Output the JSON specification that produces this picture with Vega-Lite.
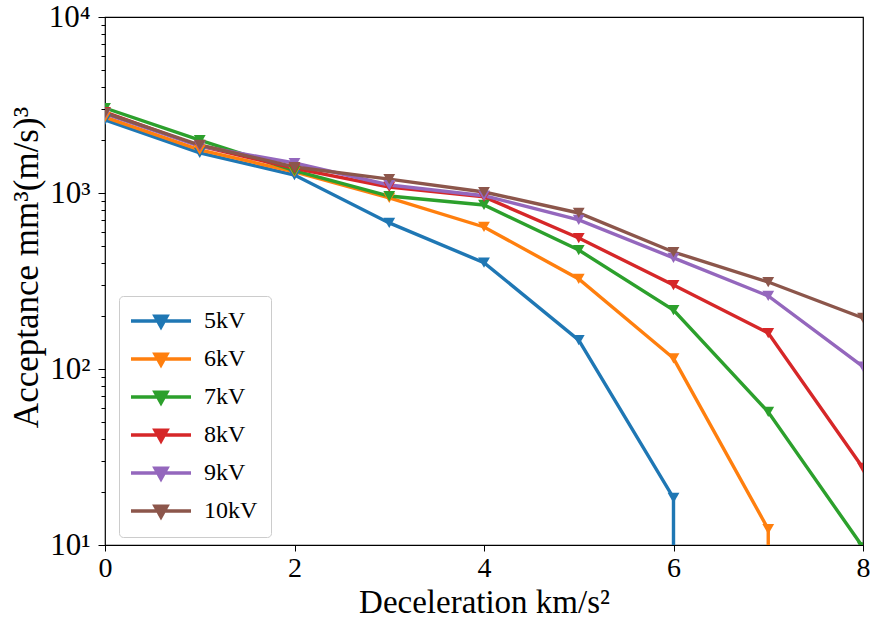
{
  "$schema": "https://vega.github.io/schema/vega-lite/v6.json",
  "autosize": {"type": "none"},
  "width": 758,
  "height": 528,
  "padding": {"left": 105, "top": 17, "right": 7, "bottom": 83},
  "background": "white",
  "config": {
    "view": {"stroke": "black", "strokeWidth": 1.2},
    "font": "Liberation Serif",
    "axis": {"grid": false, "domainColor": "black", "tickColor": "black", "labelColor": "black", "titleColor": "black", "labelFont": "Liberation Serif", "titleFont": "Liberation Serif", "titleFontWeight": "normal"}
  },
  "data": {"values": [
    {"series": "5kV", "decel": 0, "acceptance": 2600},
    {"series": "5kV", "decel": 1, "acceptance": 1690},
    {"series": "5kV", "decel": 2, "acceptance": 1265},
    {"series": "5kV", "decel": 3, "acceptance": 676},
    {"series": "5kV", "decel": 4, "acceptance": 402},
    {"series": "5kV", "decel": 5, "acceptance": 146},
    {"series": "5kV", "decel": 6, "acceptance": 18.5},
    {"series": "5kV", "decel": 6, "acceptance": 0.000001},
    {"series": "6kV", "decel": 0, "acceptance": 2700},
    {"series": "6kV", "decel": 1, "acceptance": 1760},
    {"series": "6kV", "decel": 2, "acceptance": 1320},
    {"series": "6kV", "decel": 3, "acceptance": 937},
    {"series": "6kV", "decel": 4, "acceptance": 641},
    {"series": "6kV", "decel": 5, "acceptance": 325},
    {"series": "6kV", "decel": 6, "acceptance": 115},
    {"series": "6kV", "decel": 7, "acceptance": 12.3},
    {"series": "6kV", "decel": 7, "acceptance": 0.000001},
    {"series": "7kV", "decel": 0, "acceptance": 3040},
    {"series": "7kV", "decel": 1, "acceptance": 2000},
    {"series": "7kV", "decel": 2, "acceptance": 1340},
    {"series": "7kV", "decel": 3, "acceptance": 961},
    {"series": "7kV", "decel": 4, "acceptance": 855},
    {"series": "7kV", "decel": 5, "acceptance": 474},
    {"series": "7kV", "decel": 6, "acceptance": 216},
    {"series": "7kV", "decel": 7, "acceptance": 57},
    {"series": "7kV", "decel": 8, "acceptance": 9.7},
    {"series": "8kV", "decel": 0, "acceptance": 2880},
    {"series": "8kV", "decel": 1, "acceptance": 1850},
    {"series": "8kV", "decel": 2, "acceptance": 1380},
    {"series": "8kV", "decel": 3, "acceptance": 1082},
    {"series": "8kV", "decel": 4, "acceptance": 950},
    {"series": "8kV", "decel": 5, "acceptance": 555},
    {"series": "8kV", "decel": 6, "acceptance": 300},
    {"series": "8kV", "decel": 7, "acceptance": 160},
    {"series": "8kV", "decel": 8, "acceptance": 27.4},
    {"series": "9kV", "decel": 0, "acceptance": 2820},
    {"series": "9kV", "decel": 1, "acceptance": 1850},
    {"series": "9kV", "decel": 2, "acceptance": 1480},
    {"series": "9kV", "decel": 3, "acceptance": 1110},
    {"series": "9kV", "decel": 4, "acceptance": 965},
    {"series": "9kV", "decel": 5, "acceptance": 703},
    {"series": "9kV", "decel": 6, "acceptance": 428},
    {"series": "9kV", "decel": 7, "acceptance": 260},
    {"series": "9kV", "decel": 8, "acceptance": 103},
    {"series": "10kV", "decel": 0, "acceptance": 2850},
    {"series": "10kV", "decel": 1, "acceptance": 1874},
    {"series": "10kV", "decel": 2, "acceptance": 1405},
    {"series": "10kV", "decel": 3, "acceptance": 1200},
    {"series": "10kV", "decel": 4, "acceptance": 1013},
    {"series": "10kV", "decel": 5, "acceptance": 770},
    {"series": "10kV", "decel": 6, "acceptance": 462},
    {"series": "10kV", "decel": 7, "acceptance": 312},
    {"series": "10kV", "decel": 8, "acceptance": 195}
  ]},
  "encoding": {
    "x": {"field": "decel", "type": "quantitative",
      "scale": {"domain": [0, 8], "nice": false, "zero": false},
      "axis": {"values": [0, 2, 4, 6, 8], "title": "Deceleration km/s²", "labelFontSize": 28, "titleFontSize": 33, "tickSize": 6, "labelPadding": 3, "titlePadding": 4, "labelFlush": false, "domain": false}},
    "y": {"field": "acceptance", "type": "quantitative",
      "scale": {"type": "log", "domain": [10, 10000], "nice": false},
      "axis": {"values": [10, 20, 30, 40, 50, 60, 70, 80, 90, 100, 200, 300, 400, 500, 600, 700, 800, 900, 1000, 2000, 3000, 4000, 5000, 6000, 7000, 8000, 9000, 10000],
        "labelExpr": "datum.value == 10 ? '10¹' : datum.value == 100 ? '10²' : datum.value == 1000 ? '10³' : datum.value == 10000 ? '10⁴' : ''",
        "tickSize": {"condition": {"test": "datum.value == 10 || datum.value == 100 || datum.value == 1000 || datum.value == 10000", "value": 7}, "value": 4},
        "title": "Acceptance mm³(m/s)³", "labelFontSize": 31, "titleFontSize": 35, "labelPadding": 8, "titlePadding": 4, "titleY": 250, "labelFlush": false, "domain": false}},
    "color": {"field": "series", "type": "nominal",
      "sort": ["5kV", "6kV", "7kV", "8kV", "9kV", "10kV"],
      "scale": {"domain": ["5kV", "6kV", "7kV", "8kV", "9kV", "10kV"], "range": ["#1f77b4", "#ff7f0e", "#2ca02c", "#d62728", "#9467bd", "#8c564b"]},
      "legend": {"title": null, "orient": "none", "legendX": 14, "legendY": 279,
        "symbolType": "M-1.625,0H5.875M1.375,-0.6L2.875,-0.6L2.125,0.75Z", "symbolSize": 256, "symbolStrokeWidth": 3.4,
        "labelFontSize": 24, "labelFont": "Liberation Serif", "labelColor": "black", "rowPadding": 13, "labelOffset": 48,
        "padding": 13, "strokeColor": "#cccccc", "fillColor": "white", "cornerRadius": 4, "symbolOpacity": 1}}
  },
  "layer": [
    {"mark": {"type": "line", "strokeWidth": 3.4, "clip": true}},
    {"mark": {"type": "point", "shape": "triangle-down", "filled": true, "size": 140, "opacity": 1, "clip": true}}
  ]
}
